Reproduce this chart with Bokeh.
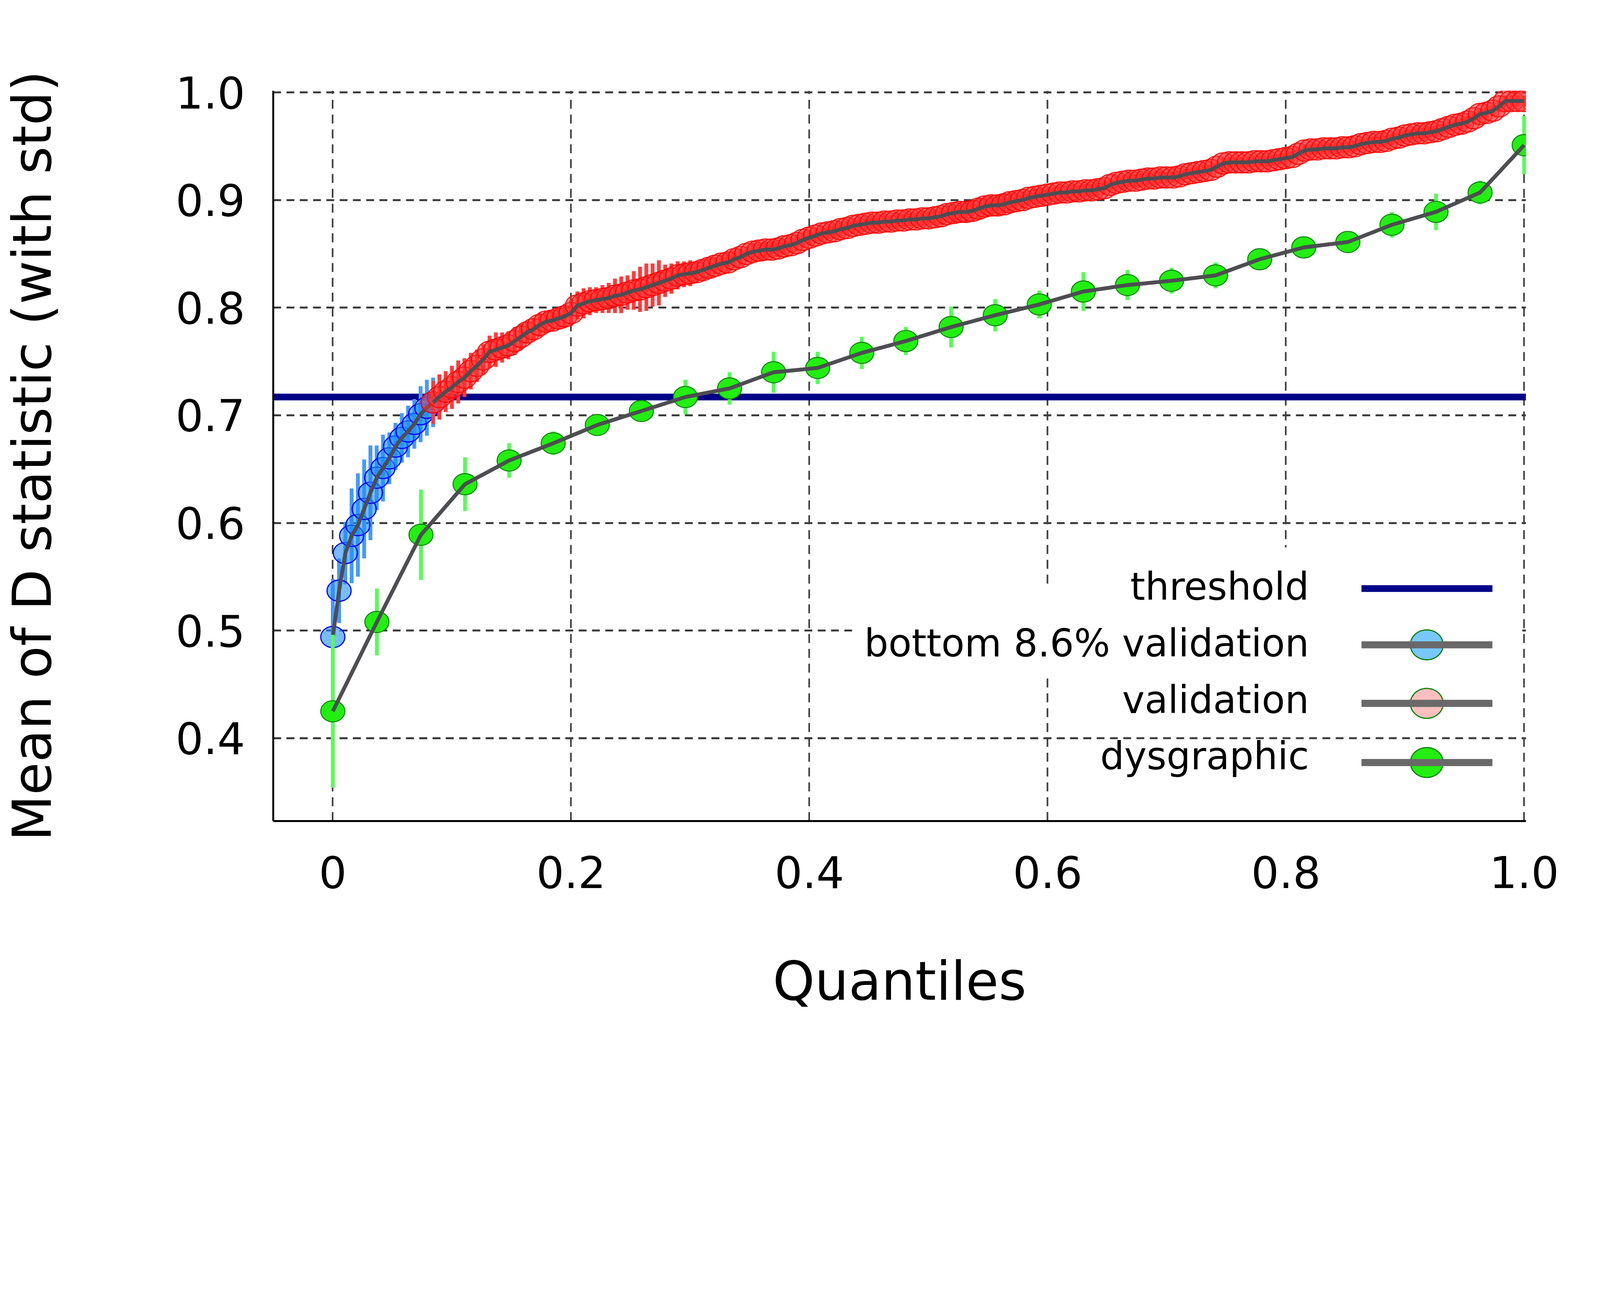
import numpy as np
from bokeh.plotting import figure
from bokeh.models import (FixedTicker, Span, BoxAnnotation, Label, PolyAnnotation, Range1d)
from bokeh.embed import file_html
from bokeh.resources import INLINE

# ---------------- data ----------------
threshold = 0.717

x_ticks = [0, 0.2, 0.4, 0.6, 0.8, 1.0]
x_tick_labels = ["0", "0.2", "0.4", "0.6", "0.8", "1.0"]
y_ticks = [0.4, 0.5, 0.6, 0.7, 0.8, 0.9, 1.0]
y_tick_labels = ["0.4", "0.5", "0.6", "0.7", "0.8", "0.9", "1.0"]

# dysgraphic (28 quantile points)
dys_x = [0.0, 0.037, 0.074, 0.111, 0.148, 0.185, 0.222, 0.259, 0.296, 0.333,
         0.370, 0.407, 0.444, 0.481, 0.519, 0.556, 0.593, 0.630, 0.667, 0.704,
         0.741, 0.778, 0.815, 0.852, 0.889, 0.926, 0.963, 1.0]
dys_y = [0.425, 0.508, 0.589, 0.636, 0.658, 0.674, 0.691, 0.704, 0.717, 0.725,
         0.740, 0.744, 0.758, 0.769, 0.782, 0.793, 0.803, 0.815, 0.821, 0.825,
         0.830, 0.845, 0.856, 0.861, 0.877, 0.889, 0.907, 0.951]
dys_std = [0.071, 0.031, 0.042, 0.025, 0.016, 0.011, 0.009, 0.009, 0.016, 0.015,
           0.019, 0.015, 0.015, 0.013, 0.019, 0.015, 0.013, 0.018, 0.014, 0.012,
           0.012, 0.008, 0.008, 0.007, 0.012, 0.017, 0.011, 0.027]

# validation quantile positions (191 points), bottom part = first 17
val_x = np.linspace(0.0, 1.0, 191)

bottom_y = [0.494, 0.537, 0.572, 0.588, 0.598, 0.613, 0.628, 0.642, 0.651, 0.660,
            0.671, 0.679, 0.685, 0.692, 0.701, 0.707, 0.712]
bottom_std = [0.054, 0.030, 0.029, 0.044, 0.048, 0.046, 0.044, 0.030, 0.031, 0.024,
              0.022, 0.023, 0.024, 0.023, 0.026, 0.026, 0.023]

valid_y = [0.712, 0.717, 0.722, 0.726, 0.731, 0.735, 0.741, 0.746, 0.752, 0.759,
           0.761, 0.763, 0.765, 0.769, 0.773, 0.777, 0.780, 0.784, 0.787, 0.788,
           0.790, 0.792, 0.795, 0.802, 0.804, 0.806, 0.807, 0.808, 0.809, 0.811,
           0.812, 0.814, 0.816, 0.817, 0.819, 0.821, 0.823, 0.825, 0.827, 0.830,
           0.831, 0.832, 0.833, 0.835, 0.837, 0.839, 0.841, 0.842, 0.845, 0.847,
           0.850, 0.852, 0.853, 0.854, 0.854, 0.855, 0.857, 0.858, 0.860, 0.863,
           0.865, 0.867, 0.869, 0.870, 0.871, 0.873, 0.874, 0.876, 0.877, 0.878,
           0.879, 0.879, 0.880, 0.880, 0.881, 0.881, 0.882, 0.882, 0.883, 0.883,
           0.884, 0.885, 0.887, 0.888, 0.889, 0.889, 0.890, 0.892, 0.894, 0.895,
           0.895, 0.896, 0.898, 0.899, 0.900, 0.902, 0.903, 0.904, 0.905, 0.906,
           0.907, 0.907, 0.908, 0.908, 0.909, 0.909, 0.910, 0.911, 0.914, 0.916,
           0.917, 0.918, 0.918, 0.919, 0.920, 0.920, 0.921, 0.921, 0.921, 0.922,
           0.924, 0.925, 0.926, 0.927, 0.928, 0.931, 0.934, 0.935, 0.935, 0.935,
           0.935, 0.936, 0.936, 0.936, 0.937, 0.938, 0.939, 0.940, 0.943, 0.946,
           0.947, 0.947, 0.948, 0.948, 0.948, 0.949, 0.949, 0.950, 0.952, 0.953,
           0.954, 0.954, 0.955, 0.957, 0.958, 0.960, 0.961, 0.962, 0.962, 0.963,
           0.964, 0.966, 0.968, 0.970, 0.971, 0.973, 0.976, 0.980, 0.981, 0.983,
           0.987, 0.992, 0.992, 0.992, 0.992]
valid_std = [0.020, 0.021, 0.019, 0.020, 0.020, 0.018, 0.017,
             0.015, 0.014, 0.015, 0.016, 0.014, 0.013, 0.013, 0.012,
             0.010, 0.010, 0.011, 0.010, 0.009, 0.010, 0.011,
             0.012, 0.013, 0.014, 0.013, 0.012, 0.013, 0.014,
             0.016, 0.017, 0.016, 0.018,
             0.021, 0.022, 0.020, 0.021,
             0.015, 0.014, 0.013, 0.012, 0.012,
             0.010, 0.009, 0.009, 0.008, 0.008, 0.009, 0.008, 0.008, 0.007, 0.008,
             0.008, 0.007, 0.007, 0.008, 0.007, 0.007, 0.008, 0.007, 0.007, 0.007,
             0.007, 0.006, 0.007, 0.007, 0.006, 0.007, 0.007, 0.006, 0.006, 0.007,
             0.006, 0.006, 0.007, 0.006, 0.006, 0.006, 0.007, 0.006, 0.007, 0.008,
             0.008, 0.009, 0.009, 0.010, 0.010, 0.010, 0.009, 0.009, 0.010, 0.010,
             0.009, 0.008, 0.008, 0.007, 0.007, 0.007, 0.006, 0.006, 0.006, 0.006,
             0.006, 0.006, 0.006, 0.006, 0.006, 0.006, 0.006, 0.006, 0.006, 0.006,
             0.006, 0.006, 0.006, 0.006, 0.006, 0.005, 0.005, 0.005, 0.005, 0.005,
             0.005, 0.005, 0.005, 0.005, 0.005, 0.005, 0.005, 0.005, 0.005, 0.005,
             0.005, 0.005, 0.005, 0.005, 0.005, 0.005, 0.005, 0.005, 0.005, 0.005,
             0.005, 0.005, 0.005, 0.005, 0.005, 0.005, 0.005, 0.005, 0.005, 0.005,
             0.005, 0.005, 0.005, 0.005, 0.005, 0.005, 0.005, 0.005, 0.005, 0.005,
             0.005, 0.005, 0.005, 0.005, 0.005, 0.005, 0.005, 0.005, 0.005, 0.005,
             0.005, 0.005, 0.005]

legend_labels = ["threshold", "bottom 8.6% validation", "validation", "dysgraphic"]
x_label = "Quantiles"
y_label = "Mean of D statistic (with std)"

# ---------------- styles ----------------
K = 0.8235          # page pixels per picture pixel


def px(v):
    return v * K


def fs(v):
    return f"{v * K:.1f}px"


def dash(a, b):
    return f"{round(a * K)} {round(b * K)}"


FONT = "DejaVu Sans"
GRID = "#3c3c3c"
GRAY = "#4d4d52"
LEG_GRAY = "#696969"

bx = np.asarray(val_x[:len(bottom_y)])
by = np.asarray(bottom_y)
bs = np.asarray(bottom_std)
rx = np.asarray(val_x[len(bottom_y) - 1:])
ry = np.asarray(valid_y)
rs = np.asarray(valid_std)
gx = np.asarray(dys_x)
gy = np.asarray(dys_y)
gs = np.asarray(dys_std)

W = round(px(4976))
H = round(px(3295))
p = figure(width=W, height=H,
           x_range=Range1d(-0.05, 1.0015), y_range=Range1d(0.323, 1.0015),
           output_backend="svg", toolbar_location=None,
           min_border_left=round(px(831)), min_border_right=round(px(233)),
           min_border_top=round(px(282)), min_border_bottom=round(px(742)))
p.outline_line_color = None
p.background_fill_color = "white"
p.border_fill_color = "white"

# axes
p.xaxis.ticker = FixedTicker(ticks=x_ticks)
p.xaxis.major_label_overrides = {t: s for t, s in zip(x_ticks, x_tick_labels)}
p.yaxis.ticker = FixedTicker(ticks=y_ticks)
p.yaxis.major_label_overrides = {t: s for t, s in zip(y_ticks, y_tick_labels)}
for ax in (p.xaxis[0], p.yaxis[0]):
    ax.axis_line_color = "black"
    ax.axis_line_width = px(6)
    ax.major_tick_line_color = None
    ax.minor_tick_line_color = None
    ax.major_tick_out = 0
    ax.major_tick_in = 0
    ax.major_label_text_font = FONT
    ax.major_label_text_font_size = fs(136)
    ax.major_label_text_color = "black"
    ax.axis_label_text_font = FONT
    ax.axis_label_text_font_style = "normal"
    ax.axis_label_text_font_size = fs(166)
    ax.axis_label_text_color = "black"
p.xaxis.axis_label = x_label
p.yaxis.axis_label = y_label
p.xaxis.major_label_standoff = round(px(108))
p.yaxis.major_label_standoff = round(px(87))
p.xaxis.axis_label_standoff = round(px(190))
p.yaxis.axis_label_standoff = round(px(345))

# grid
p.xgrid.ticker = FixedTicker(ticks=x_ticks)
p.ygrid.ticker = FixedTicker(ticks=y_ticks)
p.xgrid.grid_line_color = GRID
p.xgrid.grid_line_width = px(5)
p.xgrid.grid_line_dash = dash(28, 18)
p.ygrid.grid_line_color = GRID
p.ygrid.grid_line_width = px(6)
p.ygrid.grid_line_dash = dash(24, 17)
p.xgrid.level = "image"
p.ygrid.level = "image"

# white patches behind the key rows (screen units, relative to frame bottom-left)
for l, r, b, t in [(2638, 3883, 636, 851), (1800, 3883, 451, 731),
                   (2638, 3883, 261, 451), (2558, 3883, 3, 261)]:
    p.add_layout(BoxAnnotation(left=px(l), right=px(r), bottom=px(b), top=px(t),
                               left_units="screen", right_units="screen",
                               bottom_units="screen", top_units="screen",
                               fill_color="white", fill_alpha=1.0,
                               line_color=None, level="underlay"))
p.add_layout(Span(location=y_ticks[0], dimension="width", line_color=GRID,
                  line_width=px(6), line_dash=dash(24, 17), level="underlay"))

# threshold
p.add_layout(Span(location=threshold, dimension="width", line_color="#000088",
                  line_width=px(21), level="underlay"))

MW, MH = px(75), px(66)
BARW = px(12)
LW = px(12)

# bottom 8.6% validation
p.segment(bx, by - bs, bx, by + bs, line_color="#4499ff", line_width=BARW)
p.ellipse(bx, by, width=MW, height=MH, width_units="screen", height_units="screen",
          fill_color="#1e90ff", fill_alpha=0.6, line_color="#0000ff", line_width=px(3.5))
p.line(bx, by, line_color=GRAY, line_width=LW)

# validation
p.segment(rx, ry - rs, rx, ry + rs, line_color="#ff3b3b", line_width=BARW)
p.ellipse(rx, ry, width=MW, height=MH, width_units="screen", height_units="screen",
          fill_color="#ff3030", fill_alpha=0.5, line_color="#ff0000", line_width=px(3))
p.line(rx, ry, line_color=GRAY, line_width=LW)

# dysgraphic
p.segment(gx, gy - gs, gx, gy + gs, line_color="#55ff55", line_width=BARW)
p.ellipse(gx, gy, width=MW, height=MH, width_units="screen", height_units="screen",
          fill_color="#22ee11", fill_alpha=1.0, line_color="#0a800a", line_width=px(3))
p.line(gx, gy, line_color=GRAY, line_width=LW)

# ---------------- key ----------------
text_x = 3220
baselines = [728, 552, 377, 202]
centers = [723, 548, 366, 182]
sample_l, sample_r, sample_c = 3383, 3790, 3586
sample_fill = [None, "#78c8ff", "#ffbfbf", "#22ee11"]
theta = np.linspace(0, 2 * np.pi, 80)
for lab, bl, cy, fc in zip(legend_labels, baselines, centers, sample_fill):
    p.add_layout(Label(x=px(text_x), y=px(bl), x_units="screen", y_units="screen",
                       text=lab, text_align="right", text_baseline="alphabetic",
                       text_font=FONT, text_font_size=fs(118), text_color="black"))
    if fc is not None:
        p.add_layout(PolyAnnotation(xs=list(px(sample_c + 51 * np.cos(theta))),
                                    ys=list(px(cy + 46.5 * np.sin(theta))),
                                    xs_units="screen", ys_units="screen",
                                    fill_color=fc, fill_alpha=1.0,
                                    line_color="#008000", line_alpha=1.0,
                                    line_width=px(3.5)))
        col, th = LEG_GRAY, 22
    else:
        col, th = "#000088", 21
    p.add_layout(BoxAnnotation(left=px(sample_l), right=px(sample_r),
                               bottom=px(cy - th / 2), top=px(cy + th / 2),
                               left_units="screen", right_units="screen",
                               bottom_units="screen", top_units="screen",
                               fill_color=col, fill_alpha=1.0, line_color=None))

open("out.html", "w").write(file_html(p, INLINE))
